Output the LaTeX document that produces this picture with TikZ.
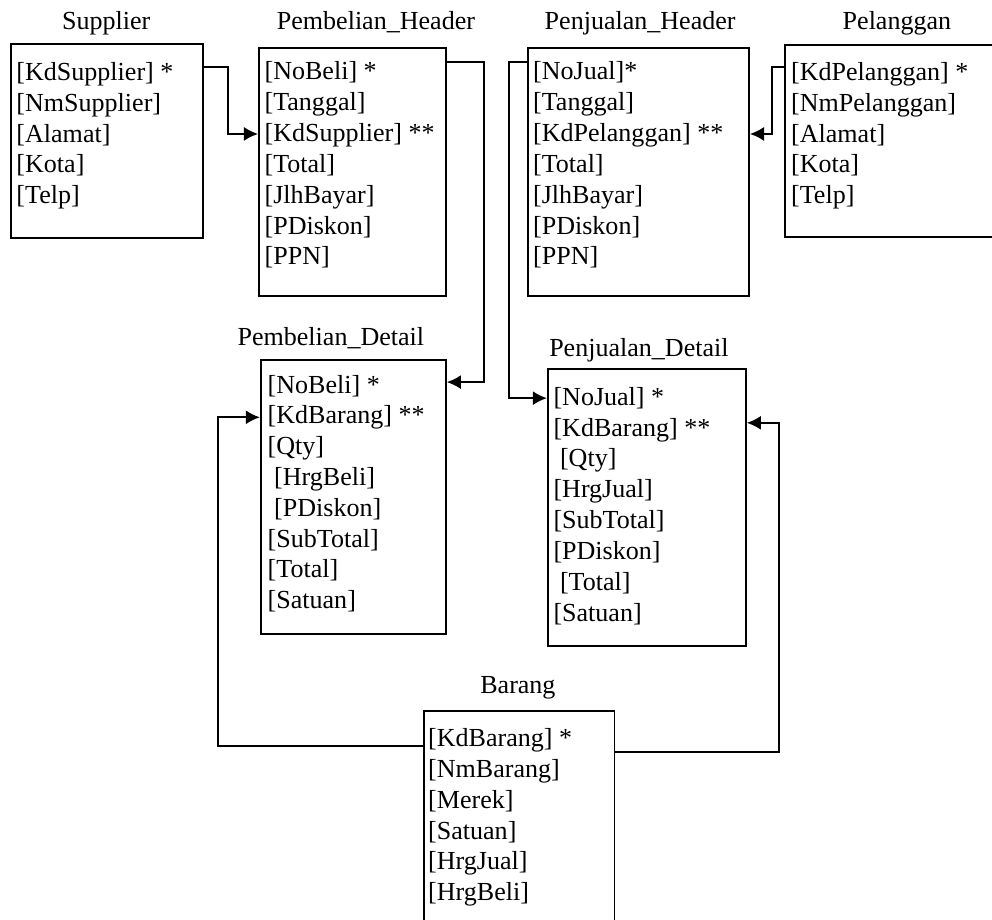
\documentclass[tikz,border=0pt]{standalone}
\usepackage{fontspec}
\setmainfont{Liberation Serif}
\usetikzlibrary{arrows.meta}
\usetikzlibrary{positioning}

\begin{document}
\begin{tikzpicture}[
		tabel/.style={draw, line width=0.8pt, anchor=north west, inner sep=0pt},
		judul/.style={anchor=base, inner sep=0pt, font=\fontsize{12}{14.2}\selectfont},
		kolom/.style={anchor=base west, inner sep=0pt, align=left, font=\fontsize{12}{14.2}\selectfont},
		relasi/.style={line width=0.9pt, -{Latex[length=6.5pt, width=6.5pt]}},
	]
		\useasboundingbox (0,0) rectangle (16.07,-14.90);
		\clip (0,0) rectangle (16.07,-14.90);

		\node[tabel, minimum width=3.11cm, minimum height=3.14cm] (supp) at (0.16,-0.70) {};
		\node[tabel, minimum width=3.03cm, minimum height=4.02cm] (belih) at (4.18,-0.76) {};
		\node[tabel, minimum width=3.58cm, minimum height=4.02cm] (jualh) at (8.54,-0.76) {};
		\node[tabel, minimum width=4.00cm, minimum height=3.11cm] (plg) at (12.70,-0.71) {};
		\node[tabel, minimum width=3.00cm, minimum height=4.44cm] (belid) at (4.21,-5.82) {};
		\node[tabel, minimum width=3.21cm, minimum height=4.49cm] (juald) at (8.86,-5.96) {};
		\node[tabel, minimum width=3.09cm, minimum height=4.00cm] (brg) at (6.85,-11.50) {};

		\node[judul] (t-supp) at (1.72,-0.47) {Supplier};
		\node[judul] (t-belih) at (6.09,-0.47) {Pembelian\_Header};
		\node[judul] (t-jualh) at (10.37,-0.47) {Penjualan\_Header};
		\node[judul] (t-plg) at (14.53,-0.47) {Pelanggan};
		\node[judul] (t-belid) at (5.36,-5.59) {Pembelian\_Detail};
		\node[judul] (t-juald) at (10.35,-5.77) {Penjualan\_Detail};
		\node[judul] (t-brg) at (8.39,-11.24) {Barang};

		% anchored at the baseline of the last line
		\node[kolom] (k-supp) at (0.26,-3.30) {[KdSupplier] *\\{}[NmSupplier]\\{}[Alamat]\\{}[Kota]\\{}[Telp]};
		\node[kolom] (k-belih) at (4.28,-4.29) {[NoBeli] *\\{}[Tanggal]\\{}[KdSupplier] **\\{}[Total]\\{}[JlhBayar]\\{}[PDiskon]\\{}[PPN]};
		\node[kolom] (k-jualh) at (8.63,-4.29) {[NoJual]*\\{}[Tanggal]\\{}[KdPelanggan] **\\{}[Total]\\{}[JlhBayar]\\{}[PDiskon]\\{}[PPN]};
		\node[kolom] (k-plg) at (12.81,-3.30) {[KdPelanggan] *\\{}[NmPelanggan]\\{}[Alamat]\\{}[Kota]\\{}[Telp]};
		\node[kolom] (k-belid) at (4.33,-9.86) {[NoBeli] *\\{}[KdBarang] **\\{}[Qty]\\{}\ [HrgBeli]\\{}\ [PDiskon]\\{}[SubTotal]\\{}[Total]\\{}[Satuan]};
		\node[kolom] (k-juald) at (8.96,-10.06) {[NoJual] *\\{}[KdBarang] **\\{}\ [Qty]\\{}[HrgJual]\\{}[SubTotal]\\{}[PDiskon]\\{}\ [Total]\\{}[Satuan]};
		\node[kolom] (k-brg) at (6.93,-14.59) {[KdBarang] *\\{}[NmBarang]\\{}[Merek]\\{}[Satuan]\\{}[HrgJual]\\{}[HrgBeli]};

		\draw[relasi] ([yshift=-0.39cm]supp.north east) -- ++(0.39,0) |- ([yshift=-1.41cm]belih.north west);
		\draw[relasi] ([yshift=-0.24cm]belih.north east) -- ++(0.61,0) |- ([yshift=-0.37cm]belid.north east);
		\draw[relasi] ([yshift=-0.24cm]jualh.north west) -- ++(-0.29,0) |- ([yshift=-0.49cm]juald.north west);
		\draw[relasi] ([yshift=-0.37cm]plg.north west) -- ++(-0.19,0) |- ([yshift=-1.41cm]jualh.north east);
		\draw[relasi] ([yshift=-0.58cm]brg.north west) -- ++(-3.32,0) |- ([yshift=-0.94cm]belid.north west);
		\draw[relasi] ([yshift=-0.68cm]brg.north east) -- ++(2.65,0) |- ([yshift=-0.89cm]juald.north east);
	\end{tikzpicture}
\end{document}
